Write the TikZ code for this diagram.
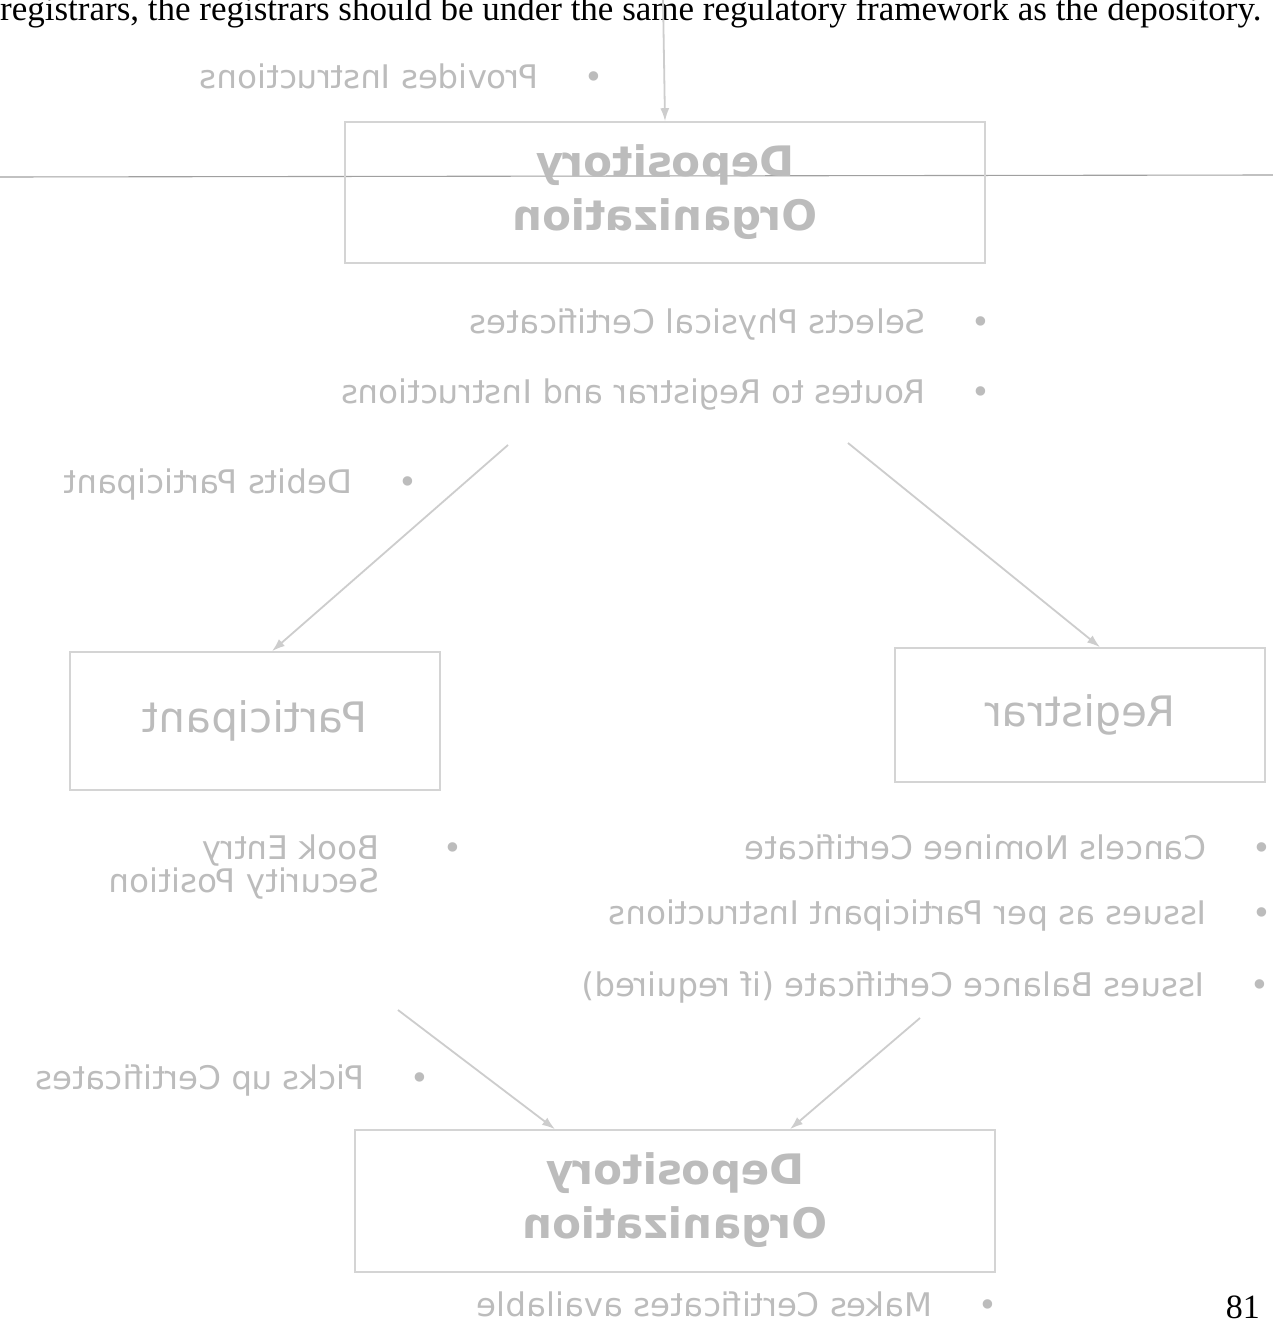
\documentclass[tikz,border=0pt]{standalone}
\usepackage{fontspec}
\usepackage{graphicx}
\setmainfont{Liberation Serif}
\newfontfamily\diagfont{DejaVu Sans}
\usetikzlibrary{arrows.meta,calc}

\definecolor{inkgray}{RGB}{188,188,188}
\definecolor{boxgray}{RGB}{212,212,212}
\definecolor{wiregray}{RGB}{205,205,205}
\definecolor{foldgray}{RGB}{160,160,160}

\tikzset{
  boxnode/.style={draw=boxgray, line width=1.6pt, inner sep=0pt, text=inkgray},
  titlefont/.style={font=\diagfont\bfseries\fontsize{42}{54}\selectfont},
  namefont/.style={font=\diagfont\fontsize{42}{50}\selectfont},
  itemnode/.style={inner sep=0pt, text=inkgray, font=\diagfont\fontsize{32.5}{40}\selectfont},
  wire/.style={draw=wiregray, line width=1.8pt, -{Latex[length=13pt,width=9pt]}},
  pagetext/.style={inner sep=0pt, text=black}
}

% mirrored bullet item: bullet on the right, text running leftwards
\newcommand{\mitem}[1]{\reflectbox{\textbullet\hspace{46pt}#1}}

\begin{document}
\begin{tikzpicture}[x=1pt,y=-1pt]
\useasboundingbox (0,0) rectangle (1273,1325);
\clip (0,0) rectangle (1273,1325);
\fill[white] (0,0) rectangle (1273,1325);

% running text of the page
\node[pagetext, anchor=base west, font=\fontsize{35}{40}\selectfont] (para) at (0,20)
  {registrars, the registrars should be under the same regulatory framework as the depository.};
\node[pagetext, anchor=base east, font=\fontsize{34}{40}\selectfont] (pageno) at (1260,1318) {81};

% fold line across the sheet
\draw[foldgray, line width=1.1pt] (0,177) -- (1273,175);

% boxes
\node[boxnode, titlefont, minimum width=640pt, minimum height=141pt] (dep1) at (665,192.5)
  {\reflectbox{\begin{tabular}{@{}c@{}}Depository\\[0pt]Organization\end{tabular}}};
\node[boxnode, namefont, minimum width=370pt, minimum height=138pt] (part) at (255,721)
  {\reflectbox{Participant}};
\node[boxnode, namefont, minimum width=370pt, minimum height=134pt] (reg) at (1080,715)
  {\reflectbox{Registrar}};
\node[boxnode, titlefont, minimum width=640pt, minimum height=142pt] (dep2) at (675,1201)
  {\reflectbox{\begin{tabular}{@{}c@{}}Depository\\[0pt]Organization\end{tabular}}};

% bullet items
\node[itemnode, anchor=base east] (i1) at (604,88) {\mitem{Provides Instructions}};
\node[itemnode, anchor=base east] (i2) at (991,333) {\mitem{Selects Physical Certificates}};
\node[itemnode, anchor=base east] (i3) at (991,403) {\mitem{Routes to Registrar and Instructions}};
\node[itemnode, anchor=base east] (i4) at (418,493) {\mitem{Debits Participant}};
\node[itemnode, anchor=base east] (i5) at (463,859)
  {\reflectbox{\begin{tabular}[t]{@{}l@{\hspace{64pt}}l@{}}\textbullet & Book Entry\\[-7pt] & Security Position\end{tabular}}};
\node[itemnode, anchor=base east] (i6) at (1272,859) {\mitem{Cancels Nominee Certificate}};
\node[itemnode, anchor=base east] (i7) at (1272,924) {\mitem{Issues as per Participant Instructions}};
\node[itemnode, anchor=base east] (i8) at (1270,996) {\mitem{Issues Balance Certificate (if required)}};
\node[itemnode, anchor=base east] (i9) at (430,1089) {\mitem{Picks up Certificates}};
\node[itemnode, anchor=base east] (i10) at (998,1316) {\mitem{Makes Certificates available}};

% connector start points
\coordinate (s0) at (663,-2);
\coordinate (s1) at (508,445);
\coordinate (s2) at (848,443);
\coordinate (s3) at (398,1010);
\coordinate (s4) at (920,1018);

% connectors
\draw[wire] (s0) -- (dep1.north);
\draw[wire] (s1) -- ([xshift=17pt]part.north);
\draw[wire] (s2) -- ([xshift=20pt]reg.north);
\draw[wire] (s3) -- ([xshift=-120pt]dep2.north);
\draw[wire] (s4) -- ([xshift=115pt]dep2.north);
\end{tikzpicture}
\end{document}
